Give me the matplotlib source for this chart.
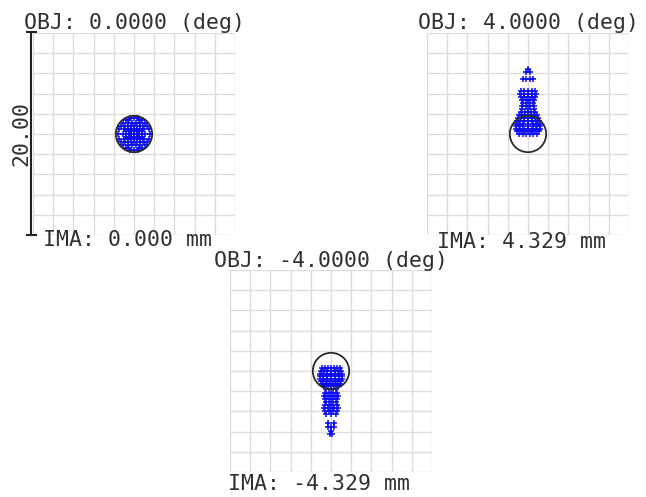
import numpy as np
import matplotlib
matplotlib.use('Agg')
import matplotlib.pyplot as plt
from matplotlib.patches import Circle

# Field labels
obj_labels = ['OBJ: 0.0000 (deg)', 'OBJ: 4.0000 (deg)', 'OBJ: -4.0000 (deg)']
ima_labels = ['IMA: 0.000 mm', 'IMA: 4.329 mm', 'IMA: -4.329 mm']
scale_label = '20.00'
box_size = 20.0      # microns across each box
airy_radius = 1.8    # microns

# Ray intercepts (microns), listed row by row as (y, [x...])
spot0_rows = [
    (1.55, [-0.4, 0.0, 0.4]),
    (1.35, [-0.8, -0.5, 0.5, 0.8]),
    (1.1, [-1.1, -0.55, -0.2, 0.2, 0.55, 1.1]),
    (0.8, [-1.3, -0.9, -0.6, -0.3, 0.0, 0.3, 0.6, 0.9, 1.3]),
    (0.5, [-1.45, -1.0, -0.6, -0.3, 0.0, 0.3, 0.6, 1.0, 1.45]),
    (0.25, [-0.8, -0.5, -0.25, 0.0, 0.25, 0.5, 0.8]),
    (0.0, [-1.55, -1.1, -0.8, -0.5, -0.25, 0.0, 0.25, 0.5, 0.8, 1.1, 1.55]),
    (-0.25, [-0.8, -0.5, -0.25, 0.0, 0.25, 0.5, 0.8]),
    (-0.5, [-1.45, -1.0, -0.6, -0.3, 0.0, 0.3, 0.6, 1.0, 1.45]),
    (-0.8, [-1.3, -0.9, -0.6, -0.3, 0.0, 0.3, 0.6, 0.9, 1.3]),
    (-1.1, [-1.1, -0.55, -0.2, 0.2, 0.55, 1.1]),
    (-1.35, [-0.8, -0.5, 0.5, 0.8]),
    (-1.55, [-0.4, 0.0, 0.4]),
]

spot1_rows = [
    (6.4, [0.0]),
    (6.1, [-0.2, 0.2]),
    (5.4, [-0.5, -0.2, 0.2, 0.5]),
    (4.3, [-0.7, -0.35, 0.0, 0.35, 0.7]),
    (4.0, [-0.8, -0.4, 0.0, 0.4, 0.8]),
    (3.7, [-0.7, -0.35, 0.0, 0.35, 0.7]),
    (3.4, [-0.6, -0.2, 0.2, 0.6]),
    (3.1, [-0.5, 0.0, 0.5]),
    (2.8, [-0.6, -0.2, 0.2, 0.6]),
    (2.5, [-0.6, 0.0, 0.6]),
    (2.2, [-0.7, -0.3, 0.0, 0.3, 0.7]),
    (1.9, [-0.9, -0.6, -0.3, 0.0, 0.3, 0.6, 0.9]),
    (1.6, [-1.0, -0.7, -0.35, 0.0, 0.35, 0.7, 1.0]),
    (1.3, [-1.1, -0.8, -0.4, 0.0, 0.4, 0.8, 1.1]),
    (1.0, [-1.2, -0.85, -0.45, 0.0, 0.45, 0.85, 1.2]),
    (0.75, [-1.2, -0.85, -0.45, 0.0, 0.45, 0.85, 1.2]),
    (0.5, [-1.2, -0.8, -0.4, 0.0, 0.4, 0.8, 1.2]),
    (0.25, [-1.1, -0.7, -0.35, 0.0, 0.35, 0.7, 1.1]),
    (0.0, [-0.9, -0.5, -0.15, 0.15, 0.5, 0.9]),
]

spot2_rows = [
    (0.25, [-0.9, -0.6, -0.3, 0.0, 0.3, 0.6, 0.9]),
    (0.0, [-1.0, -0.7, -0.35, 0.0, 0.35, 0.7, 1.0]),
    (-0.25, [-1.1, -0.75, -0.4, 0.0, 0.4, 0.75, 1.1]),
    (-0.5, [-1.1, -0.8, -0.4, 0.0, 0.4, 0.8, 1.1]),
    (-0.75, [-1.1, -0.75, -0.4, 0.0, 0.4, 0.75, 1.1]),
    (-1.0, [-1.0, -0.7, -0.35, 0.0, 0.35, 0.7, 1.0]),
    (-1.25, [-0.9, -0.5, -0.15, 0.15, 0.5, 0.9]),
    (-1.5, [-0.7, -0.3, 0.0, 0.3, 0.7]),
    (-1.8, [-0.5, 0.0, 0.5]),
    (-2.2, [-0.6, -0.2, 0.2, 0.6]),
    (-2.5, [-0.7, -0.35, 0.0, 0.35, 0.7]),
    (-2.8, [-0.6, -0.2, 0.2, 0.6]),
    (-3.1, [-0.5, 0.0, 0.5]),
    (-3.4, [-0.6, -0.2, 0.2, 0.6]),
    (-3.7, [-0.7, -0.3, 0.0, 0.3, 0.7]),
    (-4.0, [-0.6, -0.2, 0.2, 0.6]),
    (-4.3, [-0.5, 0.0, 0.5]),
    (-5.1, [-0.3, 0.3]),
    (-5.5, [-0.3, 0.0, 0.3]),
    (-5.9, [0.0]),
    (-6.2, [-0.1, 0.1]),
]


def unpack(rows):
    xs, ys = [], []
    for y, row in rows:
        xs.extend(row)
        ys.extend([y] * len(row))
    return xs, ys


spots = [unpack(spot0_rows), unpack(spot1_rows), unpack(spot2_rows)]

fig = plt.figure(figsize=(6.46, 4.97), dpi=100)
W, H = 646, 497

# box positions in pixels: left, top
boxes = [(33, 33), (427, 33), (230, 270)]
bw = 202

axes = []
for (lx, ty) in boxes:
    ax = fig.add_axes([lx / W, 1 - (ty + bw) / H, bw / W, bw / H])
    axes.append(ax)

half = box_size / 2
ticks = np.linspace(-half, half, 11)
for i, ax in enumerate(axes):
    ax.set_xlim(-half, half)
    ax.set_ylim(-half, half)
    for t in ticks:
        ax.axvline(t, color='#dcdcdc', lw=1.0, zorder=0)
        ax.axhline(t, color='#dcdcdc', lw=1.0, zorder=0)
    ax.set_xticks([])
    ax.set_yticks([])
    for s in ax.spines.values():
        s.set_visible(False)
    sx, sy = spots[i]
    ax.plot(sx, sy, linestyle='none', marker='+', color='#0a0af5',
            markersize=4.5, markeredgewidth=1.1, zorder=2)
    ax.add_patch(Circle((0, 0), airy_radius, fill=False, ec='#2a2a2a', lw=1.3, zorder=3))

font = dict(family='DejaVu Sans Mono', size=15.5, color='#303030')
title_y = [1.022, 1.022, 1.015]
ima_x = [0.47, 0.47, 0.44]
ima_y = [-0.055, -0.062, -0.089]
for i, ax in enumerate(axes):
    ax.text(0.5, title_y[i], obj_labels[i], transform=ax.transAxes,
            ha='center', va='baseline', **font)
    ax.text(ima_x[i], ima_y[i], ima_labels[i], transform=ax.transAxes,
            ha='center', va='baseline', **font)

# Scale bar on the first box
ax = axes[0]
xb = -2 / bw
ax.plot([xb, xb], [0, 1.005], transform=ax.transAxes, color='#222222', lw=1.5, clip_on=False)
ax.plot([-6 / bw, 3 / bw], [0, 0], transform=ax.transAxes, color='#222222', lw=1.5, clip_on=False)
ax.plot([-6 / bw, 3 / bw], [1.005, 1.005], transform=ax.transAxes, color='#222222', lw=1.5, clip_on=False)
ax.text(-12 / bw, 0.5, scale_label, transform=ax.transAxes, rotation=90,
        ha='center', va='center', **font)

fig.savefig('out.png', dpi=100, facecolor='white')
